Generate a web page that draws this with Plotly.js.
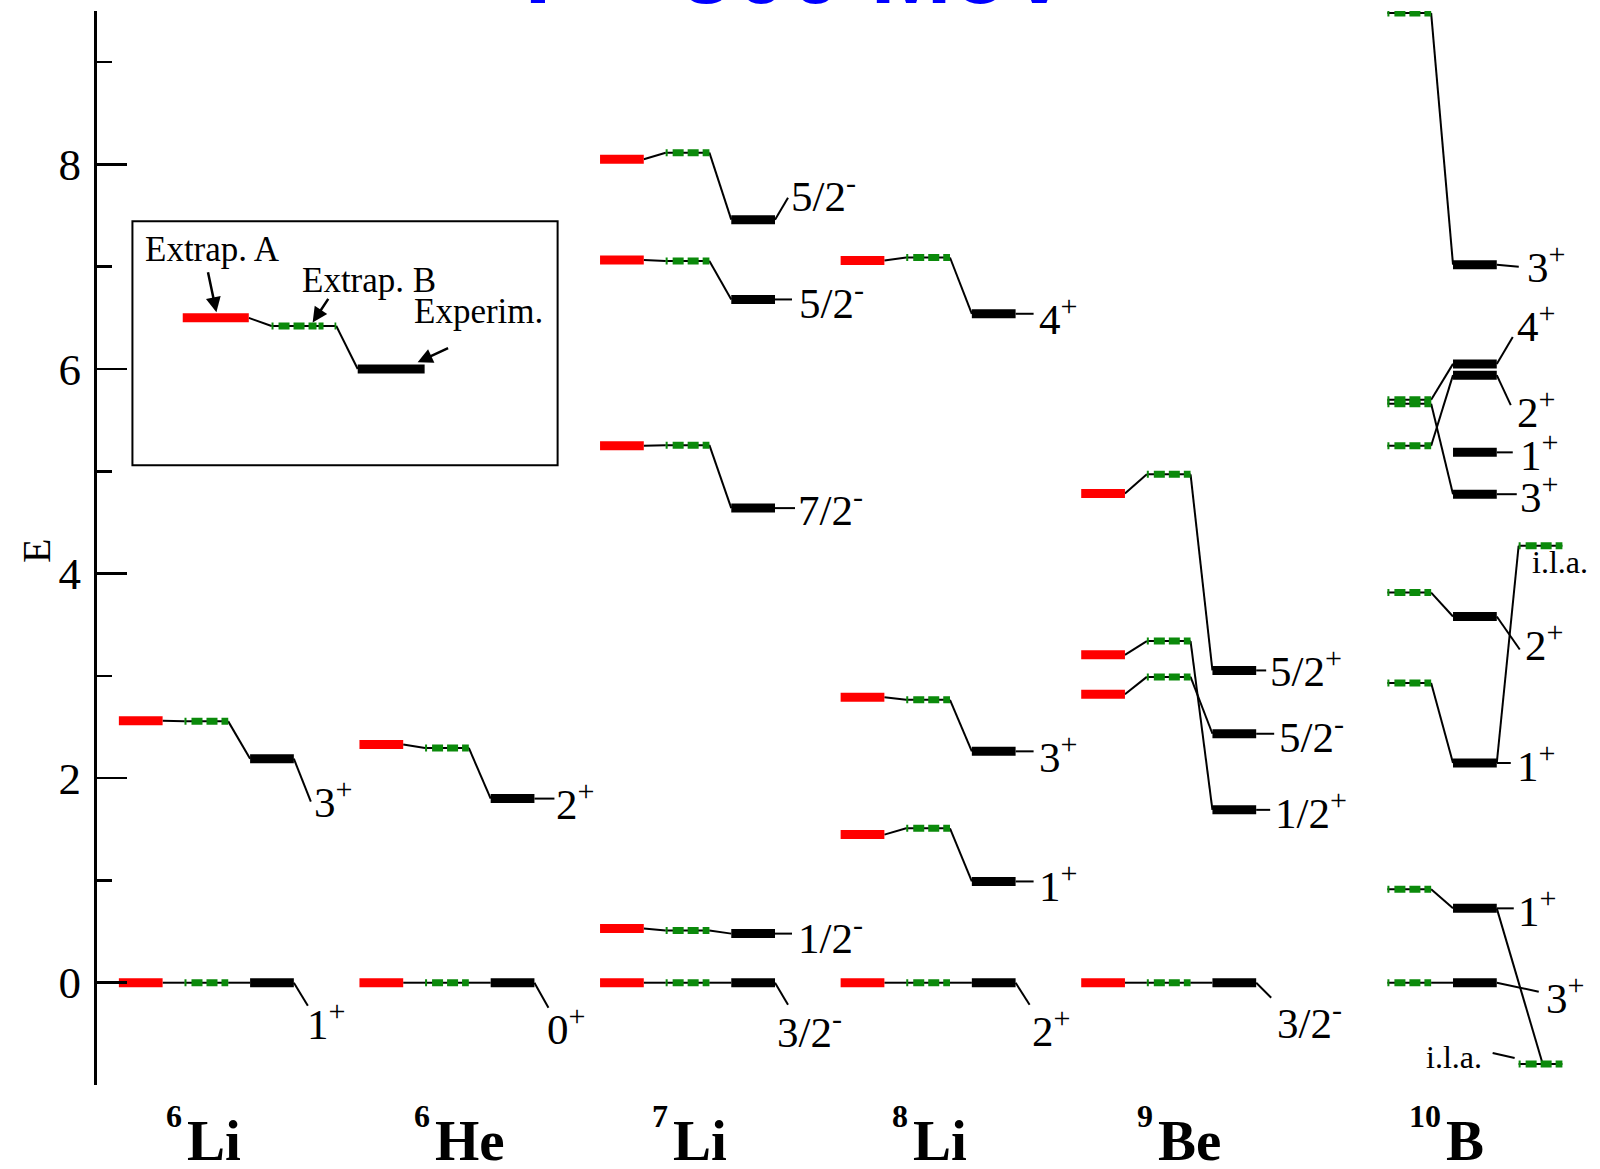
<!DOCTYPE html>
<html><head><meta charset="utf-8">
<script src="https://cdn.plot.ly/plotly-3.0.1.min.js"></script>
<style>html,body{margin:0;padding:0;background:#fff}#chart{width:1600px;height:1169px}</style>
</head><body><div id="chart"></div>
<script>
// ---------------- DATA (energies in MeV) ----------------
const nuclei = ['6Li', '6He', '7Li', '8Li', '9Be', '10B'];
const massNumbers = ['6', '6', '7', '8', '9', '10'];
const elements = ['Li', 'He', 'Li', 'Li', 'Be', 'B'];

// Extrap. A (red), Extrap. B (green), Experiment (black), J^pi
const li6_A   = [0, 2.56];
const li6_B   = [0, 2.555];
const li6_exp = [0, 2.19];
const li6_jpi = ['1+', '3+'];

const he6_A   = [0, 2.33];
const he6_B   = [0, 2.295];
const he6_exp = [0, 1.80];
const he6_jpi = ['0+', '2+'];

const li7_A   = [0, 0.53, 5.25, 7.065, 8.05];
const li7_B   = [0, 0.51, 5.255, 7.055, 8.115];
const li7_exp = [0, 0.48, 4.64, 6.68, 7.46];
const li7_jpi = ['3/2-', '1/2-', '7/2-', '5/2-', '5/2-'];

const li8_A   = [0, 1.448, 2.79, 7.06];
const li8_B   = [0, 1.51, 2.766, 7.09];
const li8_exp = [0, 0.99, 2.262, 6.54];
const li8_jpi = ['2+', '1+', '3+', '4+'];

const be9_A   = [0, 2.82, 3.206, 4.782];
const be9_B   = [0, 2.99, 3.34, 4.97];
const be9_exp = [0, 2.434, 1.69, 3.053];
const be9_jpi = ['3/2-', '5/2-', '1/2+', '5/2+'];

const b10_A   = [null, null, null, null, null, null, null, null, null];
const b10_B   = [0, 0.913, 2.93, 3.814, 5.66, null, 5.25, 5.70, 9.48];
const b10_exp = [0, 0.727, 2.148, 3.58, 4.776, 5.185, 5.94, 6.05, 7.02];
const b10_jpi = ['3+', '1+', '1+', '2+', '3+', '1+', '2+', '4+', '3+'];
const b10_ila = [null, -0.794, 4.272, null, null, null, null, null, null];

const nucleusSets = [
  {A: li6_A, B: li6_B, E: li6_exp, J: li6_jpi},
  {A: he6_A, B: he6_B, E: he6_exp, J: he6_jpi},
  {A: li7_A, B: li7_B, E: li7_exp, J: li7_jpi},
  {A: li8_A, B: li8_B, E: li8_exp, J: li8_jpi},
  {A: be9_A, B: be9_B, E: be9_exp, J: be9_jpi},
  {A: b10_A, B: b10_B, E: b10_exp, J: b10_jpi, ila: b10_ila}
];

// ---------------- LAYOUT / STYLE ----------------
const W = 1600, H = 1169;
const M = {l: 97, r: 0, t: 11, b: 84};
const XR = [-0.5, 33.86], YR = [-1, 9.5];
const plotW = W - M.l - M.r, plotH = H - M.t - M.b;
const pxX = plotW / (XR[1] - XR[0]);
const pxY = plotH / (YR[1] - YR[0]);
const SERIF = 'Liberation Serif';
const SPACING = 5.5;
const COL = {A: [0, 1], B: [1.5, 2.5], E: [3, 4], ila: [4.5, 5.5]};
const RED = '#ff0000', GREEN = '#0b8a0b', BLACK = '#000000';
const GREEN_DASH = '2px,5px,11px,4px,11px,4px,8px';

// label placement in px relative to the right end of the experimental level:
// [leaderDx, leaderDy, textDx, textDy] (dy positive = downwards)
const labelPlace = [
  [[14, 23, 11, 38], [17, 43, 18, 40]],
  [[14, 25, 11, 43], [20, 0, 20, 2]],
  [[13, 22, 0, 46], [17, 0, 21, 1], [20, 0, 21, -1], [17, 0, 22, 1], [13, -22, 14, -27]],
  [[14, 22, 14, 45], [18, 0, 21, 2], [18, 0, 21, 3], [18, 0, 21, 2]],
  [[15, 15, 19, 37], [18, 0, 21, 0], [14, 0, 17, 0], [10, 0, 12, -2]],
  [[42, 9, 47, 12], [17, 0, 19, 0], [14, 0, 18, 0], [23, 33, 26, 25], [20, 0, 21, 0],
   [16, 0, 21, 0], [14, 30, 18, 34], [16, -27, 18, -41], [22, 2, 28, -1]]
];
const ilaJoin = [null, 0.55, 0, null, null, null, null, null, null];
const symbolOffset = [1.52, 1.69, 1.62, 1.61, 1.70, 2.79];

function pageToPaperY(py) { return 1 - (py - M.t) / plotH; }
function pageToPaperX(px) { return (px - M.l) / plotW; }
function fmtJ(j) { return j.slice(0, -1) + '<sup>' + j.slice(-1) + '</sup>'; }

const red = {x: [], y: []}, green = {x: [], y: []}, black = {x: [], y: []}, conn = {x: [], y: []};
function seg(store, x0, y0, x1, y1) { store.x.push(x0, x1, null); store.y.push(y0, y1, null); }

const annotations = [];
const shapes = [];

nucleusSets.forEach((s, i) => {
  const base = SPACING * i;
  s.E.forEach((e, r) => {
    const a = s.A[r], b = s.B[r];
    if (a != null) seg(red, base + COL.A[0], a, base + COL.A[1], a);
    if (b != null) seg(green, base + COL.B[0], b, base + COL.B[1], b);
    if (e != null) seg(black, base + COL.E[0], e, base + COL.E[1], e);
    if (a != null && b != null) seg(conn, base + COL.A[1], a, base + COL.B[0], b);
    if (b != null && e != null) seg(conn, base + COL.B[1], b, base + COL.E[0], e);
    if (s.ila && s.ila[r] != null) {
      const v = s.ila[r];
      seg(green, base + COL.ila[0], v, base + COL.ila[1], v);
      seg(conn, base + COL.E[1], e, base + COL.ila[0] + ilaJoin[r], v);
    }
    // J^pi label
    const p = labelPlace[i][r];
    const xe = base + COL.E[1];
    seg(conn, xe, e, xe + p[0] / pxX, e - p[1] / pxY);
    annotations.push({
      x: xe, y: e, xref: 'x', yref: 'y', text: fmtJ(s.J[r]), showarrow: false,
      xanchor: 'left', yanchor: 'middle', xshift: p[2], yshift: -p[3],
      font: {family: SERIF, size: 43, color: BLACK}
    });
  });
  // nucleus name
  const xs = base + symbolOffset[i];
  annotations.push({
    x: xs, y: pageToPaperY(1140), xref: 'x', yref: 'paper', text: '<b>' + elements[i] + '</b>',
    showarrow: false, xanchor: 'left', yanchor: 'middle',
    font: {family: SERIF, size: 57, color: BLACK}
  });
  annotations.push({
    x: xs, y: pageToPaperY(1116), xref: 'x', yref: 'paper', text: '<b>' + massNumbers[i] + '</b>',
    showarrow: false, xanchor: 'right', yanchor: 'middle', xshift: -1,
    font: {family: SERIF, size: 32, color: BLACK}
  });
});

// i.l.a. labels for 10B
(function () {
  const base = SPACING * 5;
  const xl = base + COL.ila[0];
  const vTop = b10_ila[2], vBot = b10_ila[1];
  annotations.push({x: xl, y: vTop, xref: 'x', yref: 'y', text: 'i.l.a.', showarrow: false,
    xanchor: 'left', yanchor: 'middle', xshift: 11, yshift: -16,
    font: {family: SERIF, size: 32, color: BLACK}});
  annotations.push({x: xl, y: vBot, xref: 'x', yref: 'y', text: 'i.l.a.', showarrow: false,
    xanchor: 'right', yanchor: 'middle', xshift: -35, yshift: 7,
    font: {family: SERIF, size: 32, color: BLACK}});
  seg(conn, xl - 26 / pxX, vBot + 11 / pxY, xl - 4 / pxX, vBot + 6 / pxY);
})();

// ---------------- legend box (in the plot) ----------------
shapes.push({type: 'rect', xref: 'x', yref: 'y', x0: 0.31, x1: 10.03, y0: 5.06, y1: 7.445,
  line: {color: BLACK, width: 2}, fillcolor: 'rgba(0,0,0,0)'});
shapes.push({type: 'line', xref: 'x', yref: 'y', x0: 2.97, y0: 6.50, x1: 3.49, y1: 6.42, line: {color: BLACK, width: 2}});
shapes.push({type: 'line', xref: 'x', yref: 'y', x0: 4.97, y0: 6.42, x1: 5.46, y1: 6.00, line: {color: BLACK, width: 2}});
shapes.push({type: 'line', xref: 'x', yref: 'y', x0: 3.49, y0: 6.42, x1: 4.97, y1: 6.42, line: {color: BLACK, width: 2}});
shapes.push({type: 'line', xref: 'x', yref: 'y', x0: 3.49, y0: 6.42, x1: 4.97, y1: 6.42, line: {color: GREEN, width: 7, dash: GREEN_DASH}});
shapes.push({type: 'line', xref: 'x', yref: 'y', x0: 1.46, y0: 6.50, x1: 2.97, y1: 6.50, line: {color: RED, width: 9}});
shapes.push({type: 'line', xref: 'x', yref: 'y', x0: 5.46, y0: 6.00, x1: 6.99, y1: 6.00, line: {color: BLACK, width: 9}});
[['Extrap. A', 2.13, 7.165], ['Extrap. B', 5.71, 6.87], ['Experim.', 8.21, 6.56]].forEach(t => {
  annotations.push({x: t[1], y: t[2], xref: 'x', yref: 'y', text: t[0], showarrow: false,
    xanchor: 'center', yanchor: 'middle', font: {family: SERIF, size: 35, color: BLACK}});
});
[[2.23, 6.555, 2.03, 6.96], [4.43, 6.455, 4.81, 6.70], [6.83, 6.065, 7.56, 6.21]].forEach(a => {
  annotations.push({x: a[0], y: a[1], ax: a[2], ay: a[3], xref: 'x', yref: 'y', axref: 'x', ayref: 'y',
    text: '', showarrow: true, arrowhead: 2, arrowsize: 1.2, arrowwidth: 2.5, arrowcolor: BLACK, standoff: 0});
});

// axis title and cut-off blue title
annotations.push({x: pageToPaperX(36), y: pageToPaperY(551), xref: 'paper', yref: 'paper', text: 'E',
  textangle: -90, showarrow: false, xanchor: 'center', yanchor: 'middle',
  font: {family: SERIF, size: 40, color: BLACK}});
annotations.push({x: pageToPaperX(790), y: pageToPaperY(26), xref: 'paper', yref: 'paper',
  text: '<b>T = 500 MeV</b>', showarrow: false, xanchor: 'center', yanchor: 'bottom',
  font: {family: 'Liberation Sans', size: 98, color: '#0000ff'}});

// ---------------- traces ----------------
function lineTrace(st, color, width, dash) {
  return {type: 'scatter', mode: 'lines', x: st.x, y: st.y, connectgaps: false,
    line: {color: color, width: width, dash: dash || 'solid'}, hoverinfo: 'skip', showlegend: false};
}
const traces = [
  lineTrace(conn, BLACK, 2),
  lineTrace(green, BLACK, 2),
  lineTrace(green, GREEN, 7, GREEN_DASH),
  lineTrace(red, RED, 9),
  lineTrace(black, BLACK, 9)
];

const layout = {
  width: W, height: H, margin: M, showlegend: false,
  paper_bgcolor: '#ffffff', plot_bgcolor: '#ffffff',
  xaxis: {range: XR, visible: false, fixedrange: true},
  yaxis: {range: YR, showline: true, linewidth: 3, linecolor: BLACK, mirror: false,
    ticks: 'inside', ticklen: 30, tickwidth: 2.5, tickcolor: BLACK, tick0: 0, dtick: 2,
    minor: {ticks: 'inside', ticklen: 15, tickwidth: 2.5, tickcolor: BLACK, tick0: 0, dtick: 1},
    showgrid: false, zeroline: false, ticklabelstandoff: 4,
    tickfont: {family: SERIF, size: 45, color: BLACK}},
  annotations: annotations, shapes: shapes
};
Plotly.newPlot('chart', traces, layout, {staticPlot: true, displayModeBar: false});
</script></body></html>
